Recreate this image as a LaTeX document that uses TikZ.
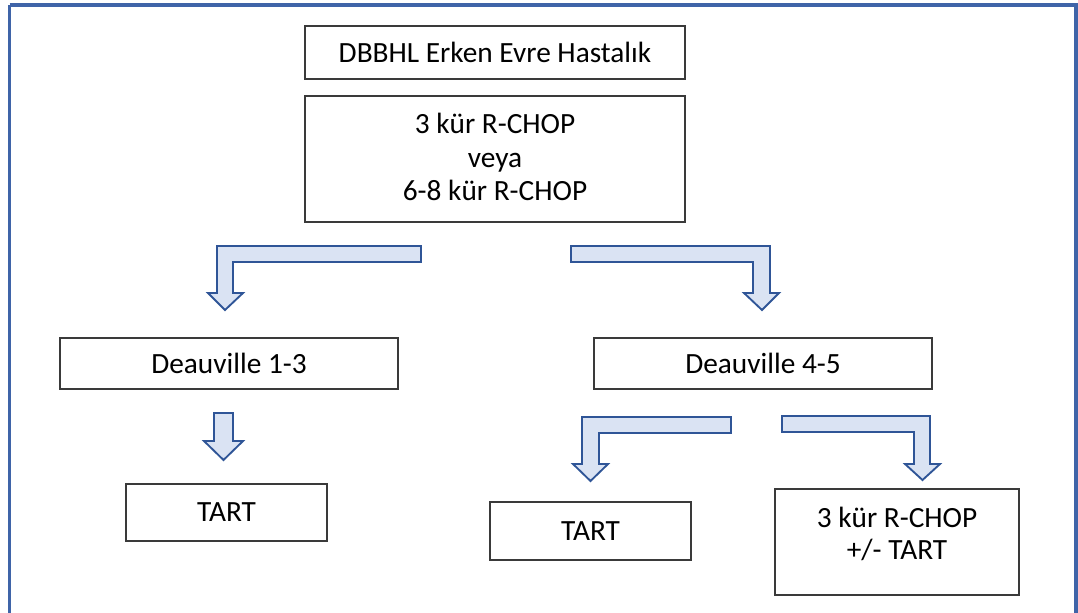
\documentclass[tikz,border=0pt]{standalone}
\usepackage{fontspec}
\setmainfont{Carlito}
\definecolor{framecol}{HTML}{3F64A8}
\definecolor{arrfill}{HTML}{DAE3F3}
\definecolor{arrline}{HTML}{2F5597}
\definecolor{boxline}{HTML}{3A3A3A}
\begin{document}
\begin{tikzpicture}[x=0.75pt,y=-0.75pt,
  box/.style={draw=boxline,line width=1pt,fill=white,inner sep=0pt,align=center,
    font=\fontsize{22}{25}\selectfont},
  boxtext/.style={inner sep=0pt,align=center,font=\fontsize{22}{24.2}\selectfont},
  blockarrow/.style={draw=arrline,fill=arrfill,line width=1.4pt,line join=miter}]
\useasboundingbox (0,0) rectangle (1078,612);
\fill[white] (0,0) rectangle (1078,612);
\draw[framecol,line width=2.4pt] (9.5,5) -- (1076,5) -- (1076,630) (9.5,5) -- (9.5,630);
% boxes
\node[box,minimum width=380*0.75pt,minimum height=53*0.75pt] (title) at (495,52.5) {DBBHL Erken Evre Hastalık};
\node[box,minimum width=380*0.75pt,minimum height=126*0.75pt] (chop) at (495,159) {};
\node[boxtext] (choptext) at ([yshift=1.5pt]chop.center) {3 kür R-CHOP\\[1pt]veya\\[1pt]6-8 kür R-CHOP};
\node[box,minimum width=338*0.75pt,minimum height=51*0.75pt] (d13) at (229,363.5) {Deauville 1-3};
\node[box,minimum width=338*0.75pt,minimum height=51*0.75pt] (d45) at (763,363.5) {Deauville 4-5};
\node[box,minimum width=201*0.75pt,minimum height=57*0.75pt] (tart1) at (226.5,512.5) {TART};
\node[box,minimum width=201*0.75pt,minimum height=58*0.75pt] (tart2) at (590.5,531) {TART};
\node[box,minimum width=244*0.75pt,minimum height=106*0.75pt] (chop2) at (897,542) {};
\node[boxtext] (chop2text) at ([yshift=6pt]chop2.center) {3 kür R-CHOP\\+/- TART};
% block arrows
\draw[blockarrow] (421,246) -- (217,246) -- (217,293) -- (208,293) -- (225,310) -- (243,293) -- (233,293) -- (233,262) -- (421,262) -- cycle;
\draw[blockarrow] (571,246) -- (770,246) -- (770,293) -- (779,293) -- (762,310) -- (744,293) -- (753,293) -- (753,262) -- (571,262) -- cycle;
\draw[blockarrow] (214,413) -- (233,413) -- (233,441) -- (243,441) -- (223.5,460) -- (204,441) -- (214,441) -- cycle;
\draw[blockarrow] (731,417) -- (582,417) -- (582,464) -- (573,464) -- (590.5,481) -- (608,464) -- (599,464) -- (599,433) -- (731,433) -- cycle;
\draw[blockarrow] (782,416) -- (930,416) -- (930,464) -- (940,464) -- (922.5,480) -- (905,464) -- (914,464) -- (914,432) -- (782,432) -- cycle;
\end{tikzpicture}
\end{document}
